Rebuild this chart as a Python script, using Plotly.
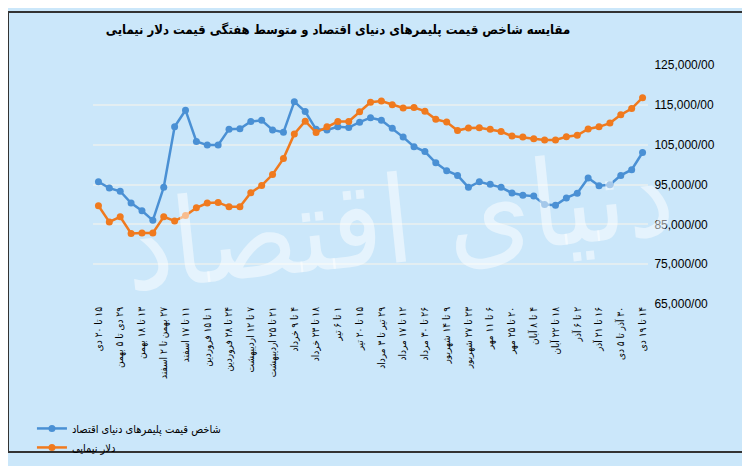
import plotly.graph_objects as go

# weekly values
polymer_index = [95700, 94100, 93300, 90350, 88400, 86000, 94300, 109500, 113650, 105800,
                 104900, 104900, 108900, 109000, 110800, 111100, 108700, 108100, 115800, 113300,
                 108850, 108700, 109500, 109300, 110650, 111770, 111150, 109100, 106900, 104500,
                 103270, 100430, 98470, 97290, 94290, 95700, 95070, 94290, 92850, 92330,
                 92090, 89960, 89800, 91620, 92800, 96650, 94690, 94930, 97290, 98710,
                 103030]
nima_dollar = [89650, 85600, 86900, 82700, 82850, 82850, 86900, 85850, 87200, 89150,
               90350, 90500, 89400, 89400, 92950, 94750, 97500, 101500, 107700, 110900,
               108050, 109500, 110800, 110800, 113260, 115630, 115950, 115000, 114200, 114300,
               113420, 111370, 110660, 108540, 109170, 109250, 108860, 108300, 107150, 106900,
               106500, 106180, 106180, 106970, 107360, 108930, 109480, 110420, 112480, 114050,
               116800]

week_labels = ["۱۵ تا ۲۰ دی", "۲۹ دی تا ۵ بهمن", "۱۳ تا ۱۸ بهمن", "۲۷ بهمن تا ۲ اسفند",
               "۱۱ تا ۱۷ اسفند", "۱ تا ۱۵ فروردین", "۲۴ تا ۲۸ فروردین", "۷ تا ۱۲ اردیبهشت",
               "۲۱ تا ۲۵ اردیبهشت", "۴ تا ۹ خرداد", "۱۸ تا ۲۳ خرداد", "۱ تا ۶ تیر",
               "۱۵ تا ۲۰ تیر", "۲۹ تیر تا ۳ مرداد", "۱۲ تا ۱۷ مرداد", "۲۶ تا ۳۰ مرداد",
               "۹ تا ۱۴ شهریور", "۲۳ تا ۲۷ شهریور", "۶ تا ۱۱ مهر", "۲۰ تا ۲۵ مهر",
               "۴ تا ۸ آبان", "۱۸ تا ۲۲ آبان", "۲ تا ۶ آذر", "۱۶ تا ۲۱ آذر",
               "۳۰ آذر تا ۵ دی", "۱۴ تا ۱۹ دی"]

y_ticks = [65000, 75000, 85000, 95000, 105000, 115000, 125000]

weeks = list(range(len(polymer_index)))
fa = "DejaVu Sans Condensed, DejaVu Sans"

fig = go.Figure()
fig.add_trace(go.Scatter(x=weeks, y=polymer_index, mode="lines+markers",
                         name="شاخص قیمت پلیمرهای دنیای اقتصاد",
                         line=dict(color="#4a90d4", width=2.5),
                         marker=dict(size=7, color="#4a90d4")))
fig.add_trace(go.Scatter(x=weeks, y=nima_dollar, mode="lines+markers",
                         name="دلار نیمایی",
                         line=dict(color="#f07a1e", width=2.5),
                         marker=dict(size=7, color="#f07a1e")))

fig.update_layout(
    width=750, height=466,
    margin=dict(l=85, r=110, t=57, b=157),
    paper_bgcolor="#cbe7fa", plot_bgcolor="#cbe7fa",
    font=dict(family=fa, color="black"),
    title=dict(text="<b>مقایسه شاخص قیمت پلیمرهای دنیای اقتصاد و متوسط هفتگی قیمت دلار نیمایی</b>",
               x=0.44, xanchor="center", y=0.955, yanchor="middle",
               font=dict(size=13, family=fa, color="black")),
    legend=dict(x=-0.11, xanchor="left", y=-0.46, yanchor="top",
                font=dict(size=11, family=fa), bgcolor="rgba(0,0,0,0)",
                tracegroupgap=2, itemwidth=30),
    showlegend=True,
)

# RLM in front so the labels keep right-to-left order when rotated
fig.update_xaxes(range=[-0.5, len(weeks) - 0.5], tickvals=weeks[::2],
                 ticktext=["\u200f" + s for s in week_labels],
                 tickangle=-90, tickfont=dict(size=10, family=fa), showgrid=False,
                 zeroline=False, showline=False, ticks="")
fig.update_yaxes(range=[65000, 125000], side="right", tickvals=y_ticks,
                 ticktext=[f"{v:,}/00" for v in y_ticks],
                 tickfont=dict(size=12, family="Liberation Sans"),
                 showgrid=True, gridcolor="#e3eef2", gridwidth=1.5,
                 zeroline=False, ticks="outside", ticklen=3, tickcolor="rgba(0,0,0,0)")

# faint watermark of the publisher name
fig.add_annotation(text="دنیای اقتصاد", xref="paper", yref="paper", x=0.55, y=0.35,
                   showarrow=False, textangle=-6,
                   font=dict(size=120, family=fa, color="rgba(255,255,255,0.5)"))

# outer frame
fig.add_shape(type="rect", xref="paper", yref="paper",
              x0=-85 / 555, x1=1 + 109 / 555, y0=-156 / 252, y1=1 + 56 / 252,
              line=dict(color="#333333", width=2), fillcolor="rgba(0,0,0,0)")

fig.write_html("out.html")
